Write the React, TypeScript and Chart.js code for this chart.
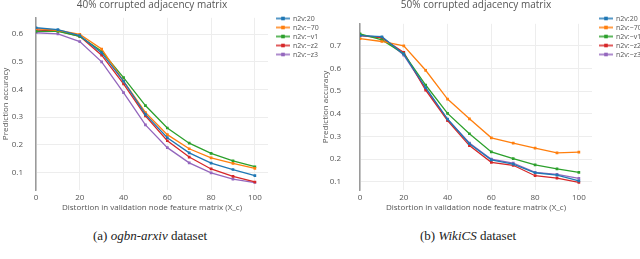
import React, { useEffect, useRef } from 'react';
import { Chart, registerables } from 'chart.js';
Chart.register(...registerables);

const xValues = [0, 10, 20, 30, 40, 50, 60, 70, 80, 90, 100];
const xTicks = [0, 20, 40, 60, 80, 100];
const seriesNames = ['n2v:20', 'n2v:~70', 'n2v:~v1', 'n2v:~z2', 'n2v:~z3'];
const seriesColors = ['#1f77b4', '#ff7f0e', '#2ca02c', '#d62728', '#9467bd'];

// (a) ogbn-arxiv, 40% corrupted
const arxivS0 = [0.623, 0.616, 0.595, 0.532, 0.43, 0.31, 0.226, 0.171, 0.134, 0.111, 0.089];
const arxivS1 = [0.62, 0.614, 0.599, 0.546, 0.43, 0.317, 0.237, 0.186, 0.153, 0.133, 0.115];
const arxivS2 = [0.61, 0.61, 0.592, 0.538, 0.443, 0.342, 0.261, 0.206, 0.169, 0.142, 0.121];
const arxivS3 = [0.615, 0.612, 0.592, 0.524, 0.42, 0.305, 0.215, 0.156, 0.113, 0.086, 0.066];
const arxivS4 = [0.605, 0.601, 0.573, 0.5, 0.389, 0.272, 0.19, 0.135, 0.099, 0.076, 0.064];
const arxivYTicks = [0.1, 0.2, 0.3, 0.4, 0.5, 0.6];

// (b) WikiCS, 50% corrupted
const wikiS0 = [0.745, 0.74, 0.663, 0.515, 0.377, 0.268, 0.197, 0.178, 0.14, 0.13, 0.104];
const wikiS1 = [0.732, 0.719, 0.7, 0.592, 0.465, 0.378, 0.294, 0.271, 0.249, 0.228, 0.231];
const wikiS2 = [0.753, 0.726, 0.665, 0.527, 0.402, 0.312, 0.232, 0.202, 0.175, 0.157, 0.142];
const wikiS3 = [0.745, 0.735, 0.671, 0.504, 0.37, 0.26, 0.186, 0.173, 0.127, 0.116, 0.098];
const wikiS4 = [0.747, 0.737, 0.659, 0.512, 0.375, 0.271, 0.2, 0.183, 0.142, 0.133, 0.115];
const wikiYTicks = [0.1, 0.2, 0.3, 0.4, 0.5, 0.6, 0.7];

const FONT = '"Open Sans", "DejaVu Sans", sans-serif';
const TEXT = '#555';

type PanelProps = {
  title: string;
  series: number[][];
  yMin: number;
  yMax: number;
  yTicks: number[];
  axisLeft: number;
  tickPad: number;
  legendX: number;
};

function Panel({ title, series, yMin, yMax, yTicks, axisLeft, tickPad, legendX }: PanelProps) {
  const ref = useRef<HTMLCanvasElement | null>(null);
  useEffect(() => {
    if (!ref.current) return;
    const deco = {
      id: 'deco',
      afterDraw(chart: any) {
        const ctx = chart.ctx;
        const ca = chart.chartArea;
        ctx.save();
        ctx.fillStyle = TEXT;
        ctx.font = `10px ${FONT}`;
        ctx.textAlign = 'center';
        ctx.textBaseline = 'middle';
        ctx.fillText(title, (ca.left + ca.right) / 2, 5);
        // legend
        ctx.font = `7px ${FONT}`;
        ctx.textAlign = 'left';
        series.forEach((_, i) => {
          const y = 18.5 + i * 9;
          ctx.strokeStyle = seriesColors[i];
          ctx.globalAlpha = 0.75;
          ctx.lineWidth = 2;
          ctx.beginPath();
          ctx.moveTo(legendX, y);
          ctx.lineTo(legendX + 14, y);
          ctx.stroke();
          ctx.globalAlpha = 1;
          ctx.fillStyle = seriesColors[i];
          ctx.fillRect(legendX + 5.2, y - 1.8, 3.6, 3.6);
          ctx.fillStyle = TEXT;
          ctx.fillText(seriesNames[i], legendX + 17, y);
        });
        ctx.restore();
      },
    };
    const chart = new Chart(ref.current, {
      type: 'line',
      data: {
        datasets: series.map((s, i) => ({
          label: seriesNames[i],
          data: s.map((v, j) => ({ x: xValues[j], y: v })),
          borderColor: seriesColors[i],
          backgroundColor: seriesColors[i],
          borderWidth: 1.3,
          pointRadius: 1.9,
          pointStyle: 'rect',
          pointBorderWidth: 0,
          tension: 0,
        })),
      },
      options: {
        animation: false,
        responsive: false,
        layout: { padding: { top: 12, right: 320 - 268 - (axisLeft - 36), left: 0, bottom: 0 } },
        plugins: { legend: { display: false }, tooltip: { enabled: false }, title: { display: false } },
        scales: {
          x: {
            type: 'linear',
            min: 0,
            max: 106,
            afterBuildTicks: (scale: any) => {
              scale.ticks = xTicks.map((v) => ({ value: v }));
            },
            afterFit: (scale: any) => {
              scale.height = 25;
            },
            grid: { color: '#ededed', lineWidth: 1, drawTicks: false },
            border: { display: false },
            ticks: { color: TEXT, font: { family: FONT, size: 8 }, padding: 3, maxRotation: 0 },
            title: {
              display: true,
              text: 'Distortion in validation node feature matrix (X_c)',
              color: TEXT,
              font: { family: FONT, size: 8 },
              padding: { top: 1, bottom: 2 },
            },
          },
          y: {
            type: 'linear',
            min: yMin,
            max: yMax,
            afterBuildTicks: (scale: any) => {
              scale.ticks = yTicks.map((v) => ({ value: v }));
            },
            afterFit: (scale: any) => {
              scale.width = axisLeft;
            },
            grid: { color: '#ededed', lineWidth: 1, drawTicks: false },
            border: { display: true, color: '#9a9a9a', width: 1.5 },
            ticks: {
              color: TEXT,
              font: { family: FONT, size: 8 },
              padding: tickPad,
              callback: (v: any) => Number(v).toFixed(1),
            },
            title: {
              display: true,
              text: 'Prediction accuracy',
              color: TEXT,
              font: { family: FONT, size: 8 },
              padding: { top: 1, bottom: 0 },
            },
          },
        },
      },
      plugins: [deco],
    } as any);
    return () => chart.destroy();
  }, []);
  return <canvas ref={ref} width={320} height={215} style={{ display: 'block', width: 320, height: 215 }} />;
}

export default function App() {
  return (
    <div style={{ position: 'absolute', left: 0, top: 0, width: 640, height: 259, background: '#fff', overflow: 'hidden' }}>
      <div style={{ position: 'absolute', left: 0, top: 0 }}>
        <Panel
          title="40% corrupted adjacency matrix"
          series={[arxivS0, arxivS1, arxivS2, arxivS3, arxivS4]}
          yMin={0.037}
          yMax={0.659}
          yTicks={arxivYTicks}
          axisLeft={36}
          tickPad={13}
          legendX={276}
        />
      </div>
      <div style={{ position: 'absolute', left: 320, top: 0 }}>
        <Panel
          title="50% corrupted adjacency matrix"
          series={[wikiS0, wikiS1, wikiS2, wikiS3, wikiS4]}
          yMin={0.064}
          yMax={0.797}
          yTicks={wikiYTicks}
          axisLeft={40}
          tickPad={19}
          legendX={279}
        />
      </div>
      <div style={{ position: 'absolute', left: 150, top: 236, transform: 'translate(-50%, -50%)', font: '13px "Liberation Serif", serif', whiteSpace: 'nowrap', color: '#222' }}>
        (a) <i>ogbn-arxiv</i> dataset
      </div>
      <div style={{ position: 'absolute', left: 468, top: 236, transform: 'translate(-50%, -50%)', font: '13px "Liberation Serif", serif', whiteSpace: 'nowrap', color: '#222' }}>
        (b) <i>WikiCS</i> dataset
      </div>
    </div>
  );
}
